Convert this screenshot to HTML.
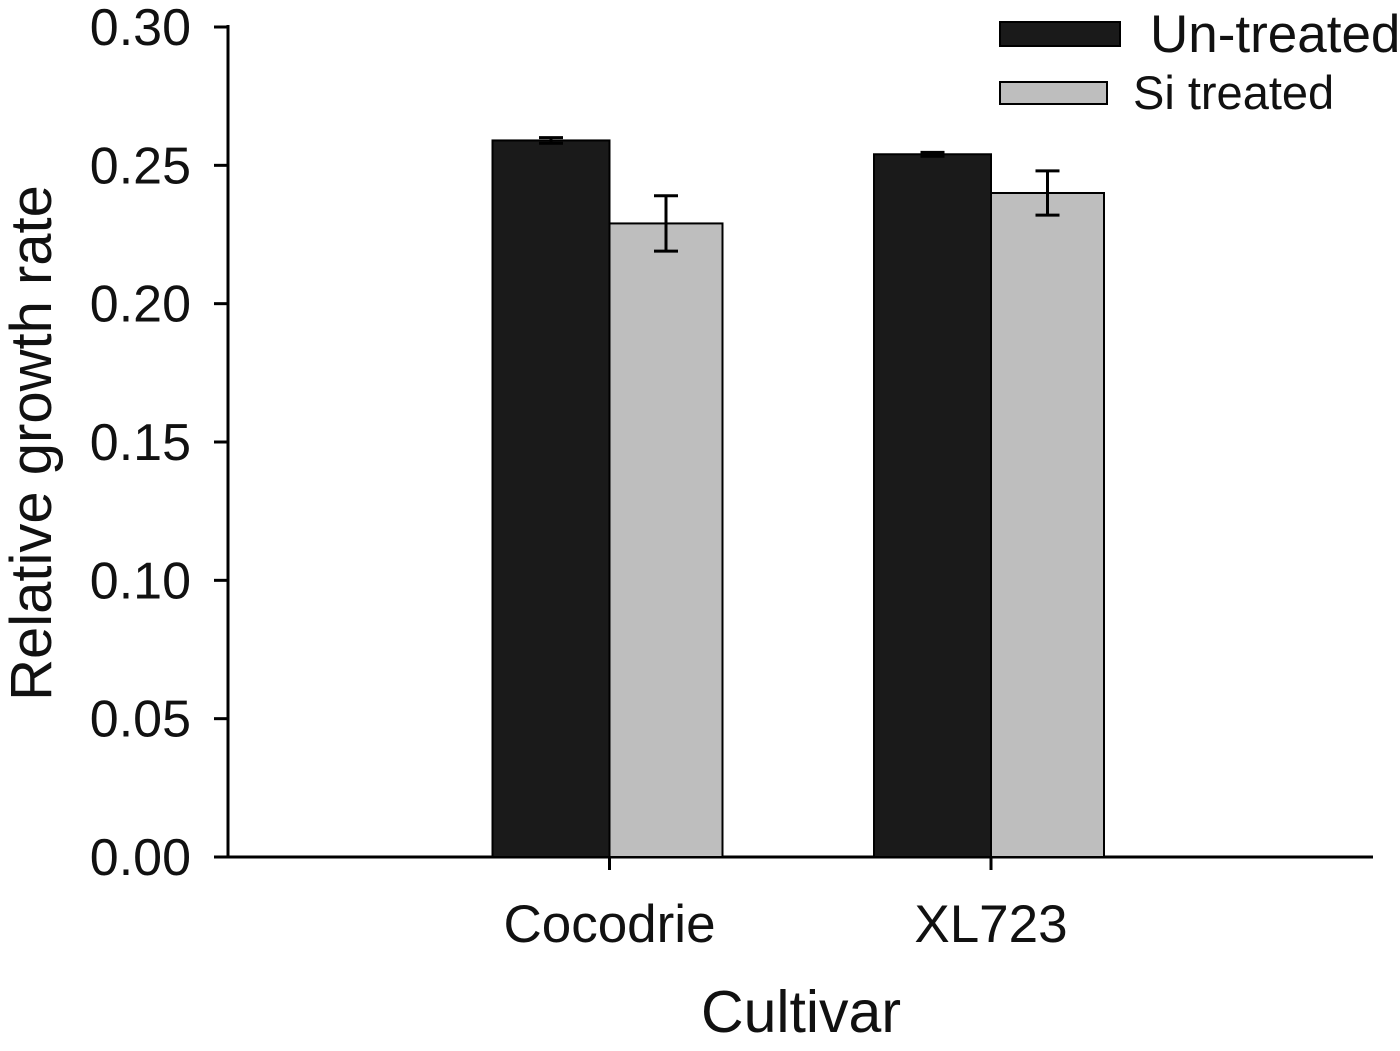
<!DOCTYPE html>
<html><head><meta charset="utf-8"><style>
html,body{margin:0;padding:0;background:#fff;}
svg{display:block;font-family:"Liberation Sans",Arial,sans-serif;}
</style></head><body>
<svg id="chart" width="1400" height="1051" viewBox="0 0 1400 1051" xmlns="http://www.w3.org/2000/svg">
<g id="axes"></g>
<g id="bars"></g>
<g id="legend">
<rect x="1000" y="22" width="120" height="24" fill="#1a1a1a" stroke="#000" stroke-width="2"/>
<text x="1150" y="52" font-size="53" fill="#111">Un-treated</text>
<rect x="1000" y="82" width="107" height="22" fill="#bebebe" stroke="#000" stroke-width="2"/>
<text x="1133" y="109" font-size="47" fill="#111">Si treated</text>
</g>
<text transform="translate(51,443) rotate(-90)" text-anchor="middle" font-size="58" fill="#111">Relative growth rate</text>
<text x="801" y="1032" text-anchor="middle" font-size="59" fill="#111">Cultivar</text>
</svg>
<script>
const categories = ["Cocodrie", "XL723"];
const untreated = [0.259, 0.254];
const untreatedErr = [0.001, 0.0007];
const siTreated = [0.229, 0.240];
const siTreatedErr = [0.010, 0.008];
const yTicks = [0, 0.05, 0.10, 0.15, 0.20, 0.25, 0.30];
const yTickLabels = ["0.00", "0.05", "0.10", "0.15", "0.20", "0.25", "0.30"];

const NS = "http://www.w3.org/2000/svg";
const x0 = 228, x1 = 1373, y0 = 857, yTop = 27;
const y = v => y0 - (v / 0.30) * (y0 - yTop);
const xc = i => x0 + (i + 1) * 381.5;
function mk(tag, attrs, parent) {
  const e = document.createElementNS(NS, tag);
  for (const k in attrs) e.setAttribute(k, attrs[k]);
  parent.appendChild(e);
  return e;
}
const axes = document.getElementById("axes");
const bars = document.getElementById("bars");

let l = mk("line", {x1: x0, y1: yTop - 2, x2: x0, y2: y0 + 1, stroke: "#000", "stroke-width": 3}, axes);


l = mk("line", {x1: x0 - 1, y1: y0, x2: x1, y2: y0, stroke: "#000", "stroke-width": 3}, axes);



yTicks.forEach((t, i) => {
  const yy = y(t);
  const tk = mk("line", {x1: x0 - 14, y1: yy, x2: x0, y2: yy, stroke: "#000", "stroke-width": 3}, axes);
  
  
  const tx = mk("text", {x: 191, y: yy + 18, "text-anchor": "end", "font-size": 52, fill: "#111"}, axes);
  tx.textContent = yTickLabels[i];
  
  
});

categories.forEach((c, i) => {
  const cx = xc(i);
  const tk = mk("line", {x1: cx, y1: y0, x2: cx, y2: y0 + 13, stroke: "#000", "stroke-width": 3}, axes);
  
  
  const tx = mk("text", {x: cx, y: 942, "text-anchor": "middle", "font-size": 53, fill: "#111"}, axes);
  tx.textContent = c;
  
  

  const b1 = mk("rect", {x: cx - 117, y: y(untreated[i]), width: 117, height: y0 - y(untreated[i]), fill: "#1a1a1a", stroke: "#000", "stroke-width": 2}, bars);
  
  
  const b2 = mk("rect", {x: cx, y: y(siTreated[i]), width: 113, height: y0 - y(siTreated[i]), fill: "#bebebe", stroke: "#000", "stroke-width": 2}, bars);
  
  

  [[cx - 58.5, untreated[i], untreatedErr[i]], [cx + 56.5, siTreated[i], siTreatedErr[i]]].forEach(([ex, v, e]) => {
    const g = mk("g", {stroke: "#000", "stroke-width": 3}, bars);
    
    
    mk("line", {x1: ex, y1: y(v + e), x2: ex, y2: y(v - e)}, g);
    mk("line", {x1: ex - 12, y1: y(v + e), x2: ex + 12, y2: y(v + e)}, g);
    mk("line", {x1: ex - 12, y1: y(v - e), x2: ex + 12, y2: y(v - e)}, g);
  });
});
</script>
</body></html>
